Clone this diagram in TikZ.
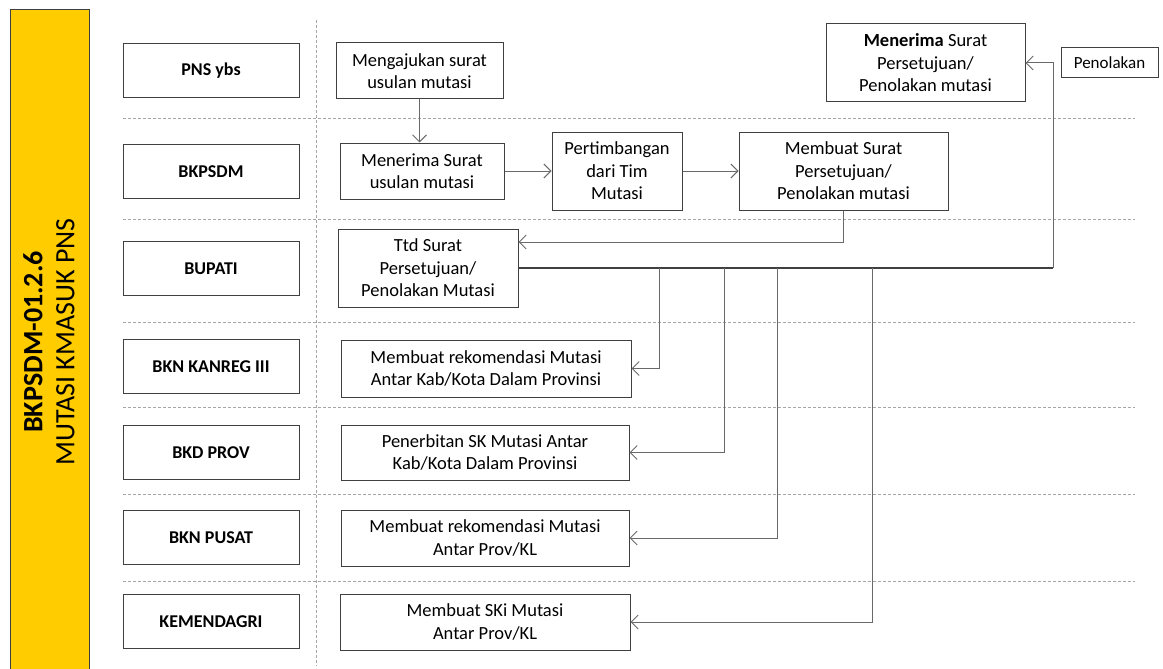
\documentclass[tikz,border=0pt]{standalone}
\usepackage{fontspec}
\setmainfont{Carlito}
\usetikzlibrary{arrows.meta}
\definecolor{kuning}{RGB}{255,204,0}
\definecolor{garis}{RGB}{64,64,64}
\definecolor{hubung}{RGB}{105,105,105}
\tikzset{
  lane/.style={draw=garis, line width=1pt, minimum width=176pt, minimum height=54pt, inner sep=0pt, font=\fontsize{18}{22}\selectfont\bfseries},
  proses/.style={draw=garis, line width=1pt, align=center, inner sep=0pt, font=\fontsize{18.5}{22.5}\selectfont},
  pisah/.style={draw=black!35, line width=0.7pt, dash pattern=on 3pt off 2pt},
  panah/.style={draw=hubung, line width=1pt, -{Straight Barb[length=7pt,width=14pt]}}
}

\begin{document}
\begin{tikzpicture}[x=1pt, y=-1pt]
    \useasboundingbox (0,0) rectangle (1163,669);
    % judul
    \draw[fill=kuning, draw=garis, line width=1pt] (10,10) rectangle (89,675);
    \node[rotate=90, align=center, font=\fontsize{28}{32}\selectfont] (judul) at (49,342) {\textbf{BKPSDM-01.2.6}\\MUTASI KMASUK PNS};
    % garis lajur
    \foreach \y in {118,219,322,407,494,581}
        \draw[pisah] (123,\y) -- (1135,\y);
    \draw[pisah] (316,20) -- (316,666);
    % lajur
    \node[lane] (pns) at (211,71) {PNS ybs};
    \node[lane] (bkpsdm) at (211,171.5) {BKPSDM};
    \node[lane] (bupati) at (211,268.5) {BUPATI};
    \node[lane] (kanreg) at (211,366.5) {BKN KANREG III};
    \node[lane] (bkd) at (211,452.5) {BKD PROV};
    \node[lane] (pusat) at (211,537.5) {BKN PUSAT};
    \node[lane] (kemendagri) at (211,621.5) {KEMENDAGRI};
    % proses
    \node[proses, minimum width=167pt, minimum height=56pt] (aju) at (419.5,71) {Mengajukan surat\\usulan mutasi};
    \node[proses, minimum width=164pt, minimum height=56pt] (usulan) at (422,171) {Menerima Surat\\usulan mutasi};
    \node[proses, minimum width=130pt, minimum height=78pt] (timbang) at (617,171) {Pertimbangan\\dari Tim\\Mutasi};
    \node[proses, minimum width=209pt, minimum height=78pt] (buat) at (843.5,171) {Membuat Surat\\Persetujuan/\\Penolakan mutasi};
    \node[proses, minimum width=199pt, minimum height=78pt] (terima) at (925.5,63) {\textbf{Menerima} Surat\\Persetujuan/\\Penolakan mutasi};
    \node[proses, minimum width=97pt, minimum height=30pt, font=\fontsize{17}{20}\selectfont] (tolak) at (1109.5,63) {Penolakan};
    \node[proses, minimum width=180pt, minimum height=78pt] (ttd) at (428,268) {Ttd Surat\\Persetujuan/\\Penolakan Mutasi};
    \node[proses, minimum width=290pt, minimum height=57pt] (kab) at (486,368.5) {Membuat rekomendasi Mutasi\\Antar Kab/Kota Dalam Provinsi};
    \node[proses, minimum width=288pt, minimum height=55pt] (terbit) at (485,452.5) {Penerbitan SK Mutasi Antar\\Kab/Kota Dalam Provinsi};
    \node[proses, minimum width=288pt, minimum height=56pt] (rekprov) at (485,538) {Membuat rekomendasi Mutasi\\Antar Prov/KL};
    \node[proses, minimum width=290pt, minimum height=56pt] (ski) at (485,622) {Membuat SKi Mutasi\\Antar Prov/KL};
    % alur
    \draw[panah] (aju.south) -- (aju.south |- usulan.north);
    \draw[panah] (usulan) -- (timbang);
    \draw[panah] (timbang) -- (buat);
    \draw[panah] (buat.south) |- ([yshift=26pt]ttd.east);
    \coordinate (belok) at (1053,268);
    \draw[draw=garis, line width=1.4pt] (ttd.east) -- (belok);
    \draw[panah] (belok) |- (terima.east);
    \foreach \x/\n in {659/kab,724/terbit,777/rekprov,872/ski} {
        \coordinate (c\n) at (\x,268);
        \draw[panah] (c\n) |- (\n.east);
    }
\end{tikzpicture}
\end{document}
